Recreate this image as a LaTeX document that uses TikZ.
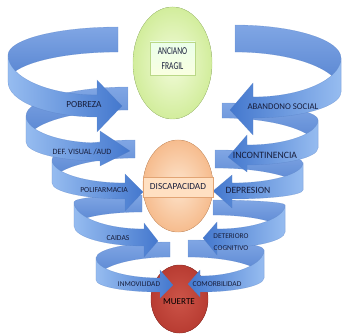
\documentclass[tikz,border=0pt]{standalone}
\usepackage{fontspec}
\usepackage{graphicx}
\newfontfamily\labelfont{Carlito}
\usetikzlibrary{shadows}

% ribbon colours
\definecolor{bandlight}{RGB}{150,188,240}
\definecolor{banddark}{RGB}{68,120,206}
\definecolor{backlight}{RGB}{128,166,228}
\definecolor{backdark}{RGB}{84,130,208}
\definecolor{edgeblue}{RGB}{80,122,192}
\definecolor{labeltext}{RGB}{24,30,60}
% ellipse colours
\definecolor{greenin}{RGB}{242,251,218}
\definecolor{greenout}{RGB}{210,237,156}
\definecolor{greenedge}{RGB}{186,216,136}
\definecolor{orangein}{RGB}{253,228,204}
\definecolor{orangeout}{RGB}{246,188,142}
\definecolor{orangeedge}{RGB}{226,164,116}
\definecolor{redin}{RGB}{204,84,72}
\definecolor{redout}{RGB}{184,60,50}
\definecolor{rededge}{RGB}{160,50,42}

\tikzset{
  backband/.style={top color=backlight, bottom color=backdark, draw=edgeblue, draw opacity=0.5, line width=0.3pt},
  frontleft/.style={left color=bandlight, right color=banddark, draw=edgeblue, draw opacity=0.5, line width=0.3pt},
  frontright/.style={left color=banddark, right color=bandlight, draw=edgeblue, draw opacity=0.5, line width=0.3pt},
  lbl/.style={font=\labelfont, text=labeltext, inner sep=0pt, align=center},
}

\begin{document}
\begin{tikzpicture}[x=1pt,y=-1pt]
\useasboundingbox (0,0) rectangle (343,334);

% the three stages
\fill[inner color=greenin, outer color=greenout, draw=greenedge, line width=0.4pt]
  (172.5,63) ellipse [x radius=39.5, y radius=56];
\fill[inner color=orangein, outer color=orangeout, draw=orangeedge, line width=0.4pt]
  (178,186) ellipse [x radius=35, y radius=46];
\fill[inner color=redin, outer color=redout, draw=rededge, line width=0.4pt]
  (179.5,299) ellipse [x radius=28.5, y radius=34];

% far side of every coil: inner end -> outer turn
\foreach \xb/\ybt/\ybb/\xo/\yot/\yob in {
    118/27/52/8/55/82, 128/87/110/26/116/142, 135/140/158/52/160/183,
    142/195/212/74/202/226, 170/242/257/96/258/280,
    235/25/52/341/58/92, 222/103/118/318/120/148, 215/150/168/303/163/190,
    213/200/215/285/205/232, 188/240/257/264/250/278}
{
  \path[backband]
    (\xb,\ybt) .. controls ({\xb-0.552*(\xb-\xo)},\ybt) and (\xo,{\yot-0.552*(\yot-\ybt)}) .. (\xo,\yot)
    -- (\xo,\yob) .. controls (\xo,{\yob-0.552*(\yob-\ybb)}) and ({\xb-0.552*(\xb-\xo)},\ybb) .. (\xb,\ybb)
    -- cycle;
}

% near side of every coil: outer turn -> arrow
\foreach \sty/\xo/\yot/\yob/\xa/\yst/\ysb/\yht/\yhb/\xt/\ytp in {
    frontleft/8/55/82/97/95/117/80/132/122/106,
    frontleft/26/116/142/100/143/161/131/166/130/151,
    frontleft/52/160/183/125/183/199/174/211/143/192,
    frontleft/74/202/226/144/229/246/223/257/158/241,
    frontleft/96/258/280/160/278/292/270/298/173/285,
    frontright/341/58/92/253/97/118/83/135/230/110,
    frontright/318/120/148/247/145/165/135/172/228/157,
    frontright/303/163/190/232/183/199/175/208/213/191,
    frontright/285/205/232/217/229/248/222/255/203/238,
    frontright/264/250/278/200/276/292/270/297/188/284}
{
  \path[\sty]
    (\xo,\yot) .. controls (\xo,{\yot+0.552*(\yst-\yot)}) and ({\xa-0.552*(\xa-\xo)},\yst) .. (\xa,\yst)
    -- (\xa,\yht) -- (\xt,\ytp) -- (\xa,\yhb) -- (\xa,\ysb)
    .. controls ({\xa-0.552*(\xa-\xo)},\ysb) and (\xo,{\yob+0.552*(\ysb-\yob)}) .. (\xo,\yob)
    -- cycle;
}

% stage captions
\node[lbl, draw=greenedge, line width=0.3pt, top color=green!8!white, bottom color=green!18!yellow!12!white,
      minimum width=45pt, minimum height=33pt,
      drop shadow={opacity=0.25, shadow xshift=1.2pt, shadow yshift=-1.2pt},
      font={\labelfont\fontsize{10.5}{15}\selectfont}]
  (fragil) at (172.5,58.5) {\scalebox{0.72}[1]{ANCIANO}\\\scalebox{0.72}[1]{FRAGIL}};
\node[lbl, draw=orangeedge, line width=0.4pt, fill=orange!24!white,
      minimum width=70pt, minimum height=20pt, font={\labelfont\fontsize{9.3}{11}\selectfont}]
  (discap) at (178,187) {DISCAPACIDAD};
\node[lbl, text={RGB,255:red,50;green,18;blue,18}, font={\labelfont\fontsize{9.1}{11}\selectfont}]
  (muerte) at (179,302) {MUERTE};

% factor labels, left coil
\node[lbl, font={\labelfont\fontsize{9.3}{11}\selectfont}] (pobreza) at (84,105) {POBREZA};
\node[lbl, font={\labelfont\fontsize{8.1}{10}\selectfont}] (defvis) at (82,152) {DEF. VISUAL /AUD};
\node[lbl, font={\labelfont\fontsize{7.7}{9}\selectfont}] (polifar) at (104,190) {POLIFARMACIA};
\node[lbl, font={\labelfont\fontsize{7.6}{9}\selectfont}] (caidas) at (118,238) {CAIDAS};
\node[lbl, font={\labelfont\fontsize{7.4}{9}\selectfont}] (inmov) at (139,284) {INMOVILIDAD};

% factor labels, right coil
\node[lbl, font={\labelfont\fontsize{8.8}{11}\selectfont}] (abandono) at (283,107) {ABANDONO SOCIAL};
\node[lbl, font={\labelfont\fontsize{9.7}{11}\selectfont}] (incont) at (265,155) {INCONTINENCIA};
\node[lbl, font={\labelfont\fontsize{9.6}{11}\selectfont}] (depres) at (248,190) {DEPRESION};
\node[lbl, font={\labelfont\fontsize{7.4}{12}\selectfont}] (deter) at (231,242) {DETERIORO\\COGNITIVO};
\node[lbl, font={\labelfont\fontsize{7.5}{9}\selectfont}] (comorb) at (217,284) {COMORBILIDAD};
\end{tikzpicture}
\end{document}
